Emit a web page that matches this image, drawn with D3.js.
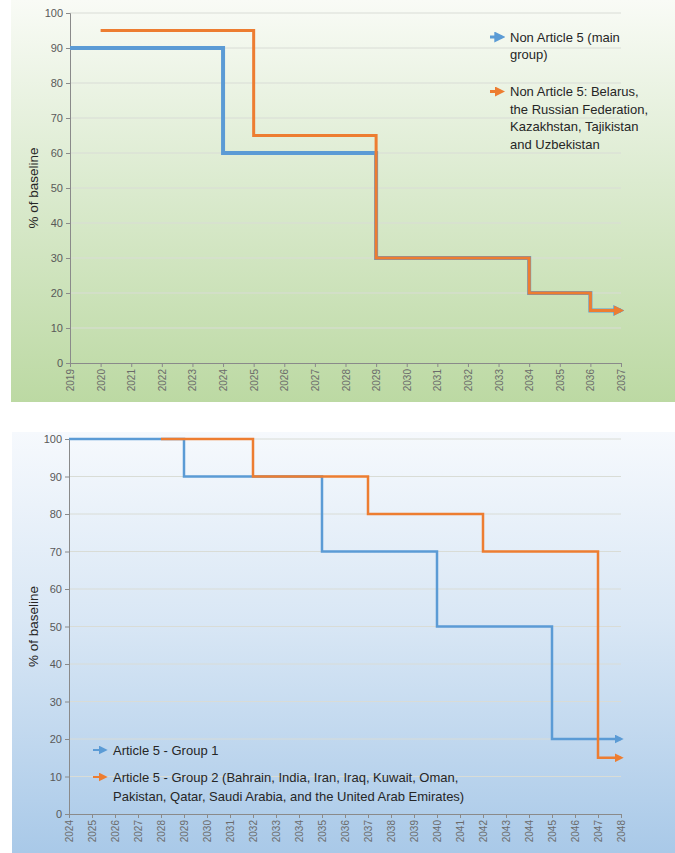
<!DOCTYPE html>
<html>
<head>
<meta charset="utf-8">
<script src="https://cdn.jsdelivr.net/npm/d3@7"></script>
<style>
  body { margin: 0; background: #fff; }
  svg { display: block; font-family: "Liberation Sans", Arial, sans-serif; }
  .tick text { fill: #595959; }
  .legend text { fill: #262626; font-size: 13px; }
</style>
</head>
<body>
<div id="visualization"></div>
<script>
// top chart: Non Article 5 parties
const topYears = d3.range(2019, 2038)
const topBlueYears = [2019, 2024, 2029, 2034, 2036, 2037]
const topBlueValues = [90, 60, 30, 20, 15, 15]
const topOrangeYears = [2020, 2025, 2029, 2034, 2036, 2037]
const topOrangeValues = [95, 65, 30, 20, 15, 15]
const topLegend = [
  ['Non Article 5 (main', 'group)'],
  ['Non Article 5: Belarus,', 'the Russian Federation,', 'Kazakhstan, Tajikistan', 'and Uzbekistan']
]

// bottom chart: Article 5 parties
const bottomYears = d3.range(2024, 2049)
const bottomBlueYears = [2024, 2029, 2035, 2040, 2045, 2048]
const bottomBlueValues = [100, 90, 70, 50, 20, 20]
const bottomOrangeYears = [2028, 2032, 2037, 2042, 2047, 2048]
const bottomOrangeValues = [100, 90, 80, 70, 15, 15]
const bottomLegend = [
  ['Article 5 - Group 1'],
  ['Article 5 - Group 2 (Bahrain, India, Iran, Iraq, Kuwait, Oman,', 'Pakistan, Qatar, Saudi Arabia, and the United Arab Emirates)']
]

const yTicks = d3.range(0, 101, 10)
const blue = '#5b9bd5'
const orange = '#ed7d31'

const svg = d3.select('#visualization').append('svg')
  .attr('width', 675).attr('height', 853)
const defs = svg.append('defs')

function gradient(id, c0, cMid, c1) {
  const g = defs.append('linearGradient').attr('id', id)
    .attr('x1', 0).attr('y1', 0).attr('x2', 0).attr('y2', 1)
  g.append('stop').attr('offset', '0%').attr('stop-color', c0)
  g.append('stop').attr('offset', '45%').attr('stop-color', cMid)
  g.append('stop').attr('offset', '100%').attr('stop-color', c1)
}
gradient('bg-green', '#f9fbf6', '#dcebd0', '#bcd9a3')
gradient('bg-blue', '#f6f9fd', '#d9e7f5', '#a9c9e8')

function arrow(id, color, size) {
  defs.append('marker').attr('id', id)
    .attr('viewBox', '0 0 10 10').attr('refX', 7).attr('refY', 5)
    .attr('markerUnits', 'userSpaceOnUse')
    .attr('markerWidth', size).attr('markerHeight', size)
    .attr('orient', 'auto')
    .append('path').attr('d', 'M0,0 L10,5 L0,10 Z').attr('fill', color)
}
arrow('arr-blue-top', blue, 11)
arrow('arr-orange-top', orange, 10)
arrow('arr-blue-bot', blue, 9)
arrow('arr-orange-bot', orange, 9)

function drawPanel(opts) {
  const g = svg.append('g')

  g.append('rect')
    .attr('x', opts.box[0]).attr('y', opts.box[1])
    .attr('width', opts.box[2]).attr('height', opts.box[3])
    .attr('fill', opts.fill)

  const x = d3.scaleLinear().domain(d3.extent(opts.years)).range([opts.left, opts.right])
  const y = d3.scaleLinear().domain([0, 100]).range([opts.bottom, opts.top])

  // gridlines
  g.append('g').selectAll('line').data(yTicks.slice(1)).join('line')
    .attr('x1', opts.left).attr('x2', opts.right)
    .attr('y1', d => y(d)).attr('y2', d => y(d))
    .attr('stroke', '#d9dcd6').attr('stroke-width', 1)

  const yAxis = g.append('g')
    .attr('transform', `translate(${opts.left},0)`)
    .call(d3.axisLeft(y).tickValues(yTicks).tickSize(4).tickPadding(3))
  yAxis.selectAll('text').style('font-size', '11px')

  const xAxis = g.append('g')
    .attr('transform', `translate(0,${opts.bottom})`)
    .call(d3.axisBottom(x).tickValues(opts.years).tickFormat(d3.format('d')).tickSize(4))
  xAxis.selectAll('text')
    .style('font-size', '10px')
    .style('fill', '#6b6b6b')
    .attr('transform', 'rotate(-90)')
    .attr('text-anchor', 'end')
    .attr('x', -6).attr('y', 0).attr('dy', '0.35em')

  g.selectAll('.domain, .tick line').attr('stroke', '#8a8a8a')

  g.append('text')
    .attr('transform', `translate(38,${(opts.top + opts.bottom) / 2}) rotate(-90)`)
    .attr('text-anchor', 'middle')
    .attr('fill', '#262626')
    .style('font-size', '13.5px')
    .text('% of baseline')

  const line = d3.line().x(d => x(d[0])).y(d => y(d[1])).curve(d3.curveStepAfter)
  opts.series.forEach(s => {
    g.append('path')
      .datum(d3.zip(s.years, s.values))
      .attr('d', line)
      .attr('fill', 'none')
      .attr('stroke', s.color)
      .attr('stroke-width', s.width)
      .attr('marker-end', `url(#${s.marker})`)
  })

  // legend
  const leg = g.append('g').attr('class', 'legend')
  let ly = opts.legend.y
  opts.legend.items.forEach((lines, i) => {
    const c = opts.series[i].color
    leg.append('line')
      .attr('x1', opts.legend.x).attr('x2', opts.legend.x + 12)
      .attr('y1', ly).attr('y2', ly)
      .attr('stroke', c).attr('stroke-width', opts.legend.w)
      .attr('marker-end', `url(#${opts.series[i].marker})`)
    const t = leg.append('text').attr('x', opts.legend.x + 20).attr('y', ly).attr('dy', '0.35em')
    lines.forEach((l, j) => {
      t.append('tspan').attr('x', opts.legend.x + 20).attr('dy', j === 0 ? '0.35em' : opts.legend.lh).text(l)
    })
    ly += lines.length * opts.legend.lh + opts.legend.gap
  })
}

drawPanel({
  box: [11, 0, 664, 402],
  fill: 'url(#bg-green)',
  years: topYears,
  left: 70, right: 621, top: 13, bottom: 363,
  series: [
    { years: topBlueYears, values: topBlueValues, color: blue, width: 4, marker: 'arr-blue-top' },
    { years: topOrangeYears, values: topOrangeValues, color: orange, width: 3, marker: 'arr-orange-top' }
  ],
  legend: { items: topLegend, x: 490, y: 37, lh: 17.5, gap: 19.5, w: 3 }
})

drawPanel({
  box: [12, 432, 663, 421],
  fill: 'url(#bg-blue)',
  years: bottomYears,
  left: 69, right: 621, top: 439, bottom: 814,
  series: [
    { years: bottomBlueYears, values: bottomBlueValues, color: blue, width: 2.5, marker: 'arr-blue-bot' },
    { years: bottomOrangeYears, values: bottomOrangeValues, color: orange, width: 2.5, marker: 'arr-orange-bot' }
  ],
  legend: { items: bottomLegend, x: 93, y: 750, lh: 19, gap: 8, w: 2 }
})
</script>
</body>
</html>
